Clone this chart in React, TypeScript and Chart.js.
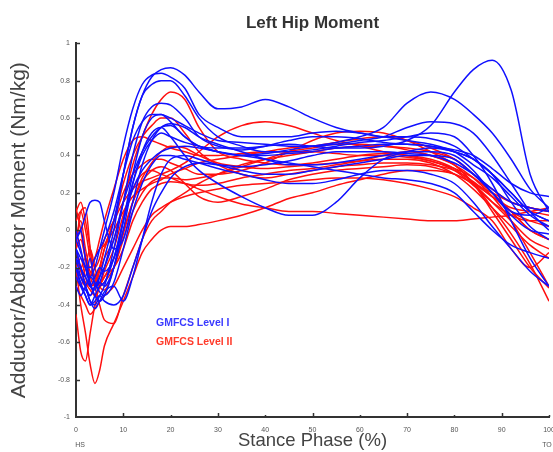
import React, { useEffect, useRef } from "react";
import { Chart, registerables } from "chart.js";

Chart.register(...registerables);

// Stance phase (%) sample positions shared by every trial
const STANCE_PCT = [0, 1, 2, 3, 4, 5, 6, 8, 10, 12, 14, 16, 18, 20, 23, 26, 30, 35, 40, 45, 50, 55, 60, 65, 70, 75, 80, 84, 88, 92, 96, 100];

// GMFCS Level I trials (Nm/kg)
const L1_T1 = [-0.1, -0.2, -0.25, -0.15, -0.3, -0.28, -0.2, 0.0, 0.3, 0.55, 0.72, 0.82, 0.86, 0.87, 0.83, 0.74, 0.65, 0.66, 0.7, 0.66, 0.6, 0.55, 0.52, 0.5, 0.48, 0.46, 0.42, 0.35, 0.28, 0.18, 0.08, 0.02];
const L1_T2 = [-0.15, -0.25, -0.3, -0.35, -0.3, -0.25, -0.2, -0.05, 0.15, 0.3, 0.42, 0.5, 0.55, 0.56, 0.5, 0.45, 0.44, 0.44, 0.45, 0.46, 0.45, 0.44, 0.44, 0.45, 0.48, 0.56, 0.74, 0.86, 0.91, 0.75, 0.3, 0.1];
const L1_T3 = [-0.2, -0.3, -0.35, -0.4, -0.35, -0.3, -0.28, -0.15, 0.05, 0.25, 0.4, 0.48, 0.52, 0.5, 0.47, 0.45, 0.42, 0.4, 0.41, 0.43, 0.45, 0.47, 0.5, 0.55, 0.68, 0.74, 0.7, 0.62, 0.52, 0.38, 0.22, 0.12];
const L1_T4 = [-0.05, 0.0, -0.15, -0.25, -0.2, -0.1, 0.0, 0.2, 0.45, 0.65, 0.78, 0.83, 0.84, 0.82, 0.76, 0.62, 0.55, 0.5, 0.5, 0.5, 0.52, 0.53, 0.52, 0.5, 0.5, 0.49, 0.45, 0.38, 0.3, 0.2, 0.1, 0.05];
const L1_T5 = [-0.1, -0.15, -0.2, -0.3, -0.32, -0.25, -0.15, 0.05, 0.3, 0.55, 0.72, 0.78, 0.8, 0.8, 0.72, 0.6, 0.5, 0.45, 0.42, 0.42, 0.43, 0.45, 0.47, 0.48, 0.5, 0.52, 0.5, 0.4, 0.25, 0.05, -0.15, -0.3];
const L1_T6 = [-0.2, -0.25, -0.3, -0.38, -0.4, -0.35, -0.3, -0.1, 0.15, 0.4, 0.58, 0.66, 0.68, 0.67, 0.6, 0.5, 0.45, 0.43, 0.45, 0.48, 0.5, 0.5, 0.49, 0.47, 0.46, 0.45, 0.42, 0.38, 0.3, 0.15, 0.02, -0.05];
const L1_T7 = [-0.25, -0.3, -0.32, -0.35, -0.3, -0.28, -0.3, -0.2, 0.0, 0.25, 0.42, 0.52, 0.55, 0.5, 0.4, 0.32, 0.25, 0.18, 0.12, 0.08, 0.08, 0.15, 0.28, 0.38, 0.42, 0.44, 0.42, 0.38, 0.3, 0.2, 0.1, 0.05];
const L1_T8 = [-0.15, -0.2, -0.3, -0.38, -0.42, -0.38, -0.33, -0.3, -0.38, -0.25, -0.05, 0.15, 0.3, 0.38, 0.4, 0.38, 0.35, 0.32, 0.3, 0.3, 0.32, 0.34, 0.36, 0.38, 0.4, 0.4, 0.38, 0.3, 0.2, 0.08, 0.0, -0.02];
const L1_T9 = [-0.05, 0.0, 0.08, 0.15, 0.16, 0.15, 0.05, -0.1, -0.05, 0.15, 0.35, 0.48, 0.55, 0.57, 0.55, 0.5, 0.46, 0.42, 0.38, 0.35, 0.35, 0.36, 0.38, 0.4, 0.42, 0.42, 0.4, 0.32, 0.2, 0.1, 0.08, 0.12];
const L1_T10 = [-0.3, -0.35, -0.3, -0.25, -0.28, -0.33, -0.35, -0.28, -0.1, 0.1, 0.25, 0.35, 0.4, 0.4, 0.38, 0.36, 0.33, 0.3, 0.27, 0.25, 0.25, 0.27, 0.3, 0.32, 0.32, 0.3, 0.25, 0.15, 0.02, -0.1, -0.22, -0.3];
const L1_T11 = [0.0, -0.1, -0.2, -0.2, -0.15, -0.1, -0.05, 0.1, 0.3, 0.48, 0.58, 0.62, 0.62, 0.6, 0.56, 0.52, 0.48, 0.47, 0.46, 0.45, 0.45, 0.46, 0.48, 0.5, 0.55, 0.58, 0.57, 0.52, 0.4, 0.25, 0.1, 0.0];
const L1_T12 = [-0.1, -0.2, -0.25, -0.3, -0.25, -0.2, -0.22, -0.15, 0.05, 0.22, 0.32, 0.38, 0.42, 0.44, 0.45, 0.44, 0.42, 0.4, 0.38, 0.36, 0.34, 0.32, 0.3, 0.28, 0.27, 0.25, 0.2, 0.1, 0.0, -0.08, -0.12, -0.15];
const L1_T13 = [-0.05, -0.12, -0.2, -0.28, -0.35, -0.38, -0.35, -0.2, 0.05, 0.3, 0.5, 0.6, 0.62, 0.58, 0.5, 0.45, 0.42, 0.4, 0.4, 0.41, 0.42, 0.44, 0.45, 0.46, 0.46, 0.45, 0.43, 0.4, 0.33, 0.25, 0.2, 0.18];
const L1_T14 = [-0.2, -0.28, -0.35, -0.4, -0.38, -0.35, -0.38, -0.4, -0.35, -0.2, -0.05, 0.1, 0.2, 0.28, 0.34, 0.36, 0.35, 0.34, 0.35, 0.37, 0.4, 0.42, 0.42, 0.42, 0.41, 0.4, 0.36, 0.3, 0.22, 0.15, 0.12, 0.1];

// GMFCS Level II trials (Nm/kg)
const L2_T1 = [-0.1, -0.2, -0.15, -0.25, -0.3, -0.22, -0.15, -0.05, 0.15, 0.35, 0.5, 0.62, 0.7, 0.74, 0.7, 0.55, 0.42, 0.38, 0.36, 0.35, 0.36, 0.38, 0.4, 0.41, 0.4, 0.38, 0.33, 0.25, 0.15, 0.05, -0.05, -0.1];
const L2_T2 = [-0.2, -0.4, -0.55, -0.72, -0.82, -0.75, -0.62, -0.5, -0.38, -0.25, -0.12, -0.05, 0.0, 0.02, 0.02, 0.03, 0.05, 0.08, 0.12, 0.17, 0.2, 0.24, 0.27, 0.3, 0.32, 0.32, 0.3, 0.25, 0.18, 0.1, 0.05, 0.02];
const L2_T3 = [-0.45, -0.65, -0.7, -0.55, -0.4, -0.3, -0.25, -0.2, -0.1, 0.05, 0.15, 0.22, 0.25, 0.26, 0.25, 0.22, 0.18, 0.14, 0.12, 0.1, 0.1, 0.09, 0.08, 0.07, 0.06, 0.05, 0.05, 0.06, 0.07, 0.08, 0.1, 0.12];
const L2_T4 = [-0.1, 0.1, 0.12, -0.1, -0.3, -0.4, -0.48, -0.5, -0.35, -0.2, -0.05, 0.05, 0.1, 0.15, 0.2, 0.25, 0.3, 0.35, 0.38, 0.4, 0.42, 0.44, 0.45, 0.45, 0.43, 0.4, 0.35, 0.28, 0.18, 0.05, -0.12, -0.3];
const L2_T5 = [0.1, 0.15, 0.05, -0.1, -0.2, -0.15, -0.05, 0.05, 0.15, 0.22, 0.26, 0.28, 0.3, 0.32, 0.36, 0.42, 0.5, 0.56, 0.58, 0.56, 0.52, 0.48, 0.45, 0.42, 0.4, 0.37, 0.33, 0.28, 0.2, 0.1, 0.0, -0.05];
const L2_T6 = [-0.2, -0.25, -0.3, -0.25, -0.15, -0.1, -0.08, 0.05, 0.2, 0.3, 0.35, 0.38, 0.38, 0.36, 0.33, 0.3, 0.3, 0.32, 0.36, 0.42, 0.48, 0.52, 0.53, 0.52, 0.48, 0.42, 0.35, 0.25, 0.12, -0.02, -0.18, -0.38];
const L2_T7 = [-0.05, 0.05, -0.1, -0.2, -0.15, -0.05, 0.05, 0.22, 0.38, 0.48, 0.5, 0.48, 0.46, 0.44, 0.42, 0.4, 0.4, 0.41, 0.42, 0.42, 0.42, 0.41, 0.4, 0.4, 0.39, 0.37, 0.32, 0.24, 0.15, 0.08, 0.05, 0.05];
const L2_T8 = [-0.3, -0.35, -0.4, -0.45, -0.42, -0.38, -0.35, -0.3, -0.2, -0.1, 0.0, 0.08, 0.12, 0.15, 0.18, 0.2, 0.22, 0.24, 0.25, 0.26, 0.27, 0.28, 0.28, 0.27, 0.25, 0.22, 0.18, 0.12, 0.05, -0.1, -0.2, -0.12];
const L2_T9 = [-0.15, -0.22, -0.28, -0.32, -0.35, -0.3, -0.25, -0.15, 0.0, 0.15, 0.28, 0.36, 0.42, 0.45, 0.44, 0.4, 0.36, 0.34, 0.33, 0.34, 0.35, 0.36, 0.37, 0.38, 0.38, 0.36, 0.3, 0.22, 0.12, 0.02, -0.08, -0.15];
const L2_T10 = [-0.2, -0.15, -0.25, -0.3, -0.28, -0.2, -0.1, 0.05, 0.25, 0.4, 0.5, 0.56, 0.6, 0.6, 0.52, 0.42, 0.35, 0.3, 0.28, 0.3, 0.32, 0.34, 0.35, 0.36, 0.36, 0.35, 0.32, 0.26, 0.18, 0.12, 0.1, 0.08];
const L2_T11 = [0.05, 0.1, 0.0, -0.15, -0.25, -0.3, -0.28, -0.2, -0.05, 0.1, 0.2, 0.26, 0.28, 0.28, 0.27, 0.28, 0.3, 0.34, 0.38, 0.42, 0.44, 0.46, 0.46, 0.45, 0.44, 0.42, 0.38, 0.3, 0.2, 0.1, 0.0, -0.05];
const L2_T12 = [0.12, 0.0, -0.15, -0.28, -0.35, -0.3, -0.22, -0.1, 0.08, 0.22, 0.3, 0.32, 0.3, 0.28, 0.25, 0.24, 0.25, 0.28, 0.3, 0.32, 0.33, 0.35, 0.37, 0.4, 0.42, 0.4, 0.35, 0.25, 0.1, -0.05, -0.2, -0.31];
const L2_T13 = [-0.25, -0.3, -0.2, -0.1, -0.2, -0.3, -0.32, -0.2, -0.02, 0.15, 0.26, 0.32, 0.34, 0.32, 0.25, 0.18, 0.15, 0.18, 0.22, 0.27, 0.3, 0.32, 0.33, 0.34, 0.35, 0.34, 0.3, 0.25, 0.2, 0.15, 0.12, 0.1];
const L2_T14 = [-0.1, -0.05, -0.15, -0.22, -0.25, -0.2, -0.1, 0.0, 0.1, 0.18, 0.22, 0.25, 0.27, 0.3, 0.33, 0.36, 0.38, 0.4, 0.42, 0.44, 0.45, 0.47, 0.49, 0.5, 0.48, 0.44, 0.38, 0.3, 0.22, 0.15, 0.12, 0.1];

const LEVEL_I = [L1_T1, L1_T2, L1_T3, L1_T4, L1_T5, L1_T6, L1_T7, L1_T8, L1_T9, L1_T10, L1_T11, L1_T12, L1_T13, L1_T14];
const LEVEL_II = [L2_T1, L2_T2, L2_T3, L2_T4, L2_T5, L2_T6, L2_T7, L2_T8, L2_T9, L2_T10, L2_T11, L2_T12, L2_T13, L2_T14];

const X_TICKS = [0, 10, 20, 30, 40, 50, 60, 70, 80, 90, 100];
const Y_TICKS = [-1, -0.8, -0.6, -0.4, -0.2, 0, 0.2, 0.4, 0.6, 0.8, 1];

const TITLE = "Left Hip Moment";
const X_TITLE = "Stance Phase (%)";
const Y_TITLE = "Adductor/Abductor Moment (Nm/kg)";
const LEGEND_I = "GMFCS Level I";
const LEGEND_II = "GMFCS Level II";
const START_LABEL = "HS";
const END_LABEL = "TO";

const BLUE = "#1010ff";
const RED = "#ff1010";
const FONT = "'Liberation Sans', Arial, sans-serif";

const toPoints = (ys: number[]) => ys.map((y, i) => ({ x: STANCE_PCT[i], y }));

const decorPlugin = {
  id: "decor",
  afterDraw(chart: any) {
    const { ctx, scales } = chart;
    const xs = scales.x;
    const ys = scales.y;
    const x0 = xs.getPixelForValue(0);
    const y0 = ys.getPixelForValue(-1);
    ctx.save();
    ctx.strokeStyle = "#333";
    ctx.lineWidth = 1.5;
    X_TICKS.forEach((v, i) => {
      if (v === 0) return;
      const px = Math.round(xs.getPixelForValue(v)) + 0.5;
      const len = i % 2 === 1 ? 4 : 2;
      ctx.beginPath();
      ctx.moveTo(px, y0);
      ctx.lineTo(px, y0 - len);
      ctx.stroke();
    });
    Y_TICKS.forEach((v) => {
      if (v === -1) return;
      const py = Math.round(ys.getPixelForValue(v)) + 0.5;
      ctx.beginPath();
      ctx.moveTo(x0, py);
      ctx.lineTo(x0 + 4, py);
      ctx.stroke();
    });
    ctx.fillStyle = "#555";
    ctx.font = `7px ${FONT}`;
    ctx.textAlign = "center";
    ctx.textBaseline = "middle";
    X_TICKS.forEach((v) => {
      ctx.fillText(String(v), xs.getPixelForValue(v), y0 + 13);
    });
    ctx.fillText(START_LABEL, xs.getPixelForValue(0) + 4, 445);
    ctx.fillText(END_LABEL, xs.getPixelForValue(100) - 2, 445);

    ctx.textAlign = "left";
    ctx.font = `bold 10.5px ${FONT}`;
    ctx.fillStyle = "#3a3aff";
    ctx.fillText(LEGEND_I, 156, 323);
    ctx.fillStyle = "#ff3a2a";
    ctx.fillText(LEGEND_II, 156, 342);
    ctx.restore();
  },
};

export default function App() {
  const canvasRef = useRef<HTMLCanvasElement | null>(null);

  useEffect(() => {
    if (!canvasRef.current) return;
    const datasets: any[] = [];
    LEVEL_I.forEach((ys, i) =>
      datasets.push({
        label: `${LEGEND_I} ${i + 1}`,
        data: toPoints(ys),
        borderColor: BLUE,
        borderWidth: 1.5,
        pointRadius: 0,
        fill: false,
        cubicInterpolationMode: "monotone",
      })
    );
    LEVEL_II.forEach((ys, i) =>
      datasets.push({
        label: `${LEGEND_II} ${i + 1}`,
        data: toPoints(ys),
        borderColor: RED,
        borderWidth: 1.5,
        pointRadius: 0,
        fill: false,
        cubicInterpolationMode: "monotone",
      })
    );

    const chart = new Chart(canvasRef.current, {
      type: "line",
      data: { datasets },
      plugins: [decorPlugin],
      options: {
        animation: false,
        responsive: false,
        layout: { padding: { left: 0, right: 4, top: 0, bottom: 0 } },
        plugins: {
          legend: { display: false },
          tooltip: { enabled: false },
          title: {
            display: true,
            text: TITLE,
            fullSize: false,
            color: "#333",
            font: { family: FONT, size: 17, weight: "bold" },
            padding: { top: 13, bottom: 10 },
          },
        },
        scales: {
          x: {
            type: "linear",
            min: 0,
            max: 100,
            afterFit: (s: any) => {
              s.height = 35;
            },
            grid: { display: false, drawTicks: false },
            border: { display: true, color: "#333", width: 2 },
            ticks: { display: false },
            title: {
              display: true,
              text: X_TITLE,
              color: "#444",
              font: { family: FONT, size: 18.5 },
              padding: { top: 0, bottom: 0 },
            },
          },
          y: {
            type: "linear",
            min: -1,
            max: 1,
            afterFit: (s: any) => {
              s.width = 76;
            },
            afterBuildTicks: (s: any) => {
              s.ticks = Y_TICKS.map((v) => ({ value: v }));
            },
            grid: { display: false, drawTicks: false },
            border: { display: true, color: "#333", width: 2 },
            ticks: {
              color: "#555",
              padding: 6,
              autoSkip: false,
              font: { family: FONT, size: 7 },
              callback: (v: any) => String(Math.round(v * 10) / 10),
            },
            title: {
              display: true,
              text: Y_TITLE,
              color: "#444",
              font: { family: FONT, size: 21 },
              padding: { top: 7, bottom: 0 },
            },
          },
        },
      },
    } as any);
    return () => chart.destroy();
  }, []);

  return (
    <div style={{ position: "fixed", left: 0, top: 0, width: 553, height: 452, background: "#fff" }}>
      <canvas ref={canvasRef} width={553} height={452} />
    </div>
  );
}
